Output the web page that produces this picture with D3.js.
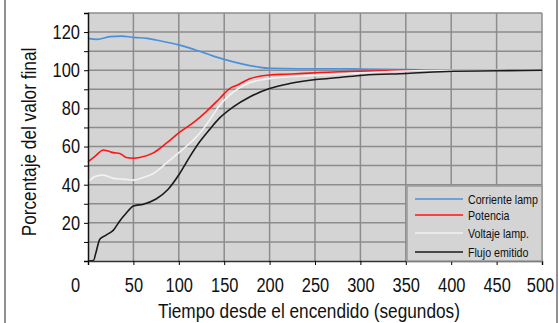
<!DOCTYPE html>
<html>
<head>
<meta charset="utf-8">
<script src="https://cdn.jsdelivr.net/npm/d3@7"></script>
<style>
  body { margin: 0; background: #fff; }
  svg text { font-family: "Liberation Sans", Arial, sans-serif; fill: #111; }
</style>
</head>
<body>
<div id="chart"></div>
<script>
// [tiempo (s), porcentaje del valor final]
const corriente = [[0,116.7],[10,116.2],[24,117.6],[37,117.9],[50,117.2],[65,116.7],[79,115.5],[100,113.3],
  [120,110.4],[138,107.4],[150,105.7],[167,103.6],[186,101.8],[200,101],[233,100.8],[277,100.8],[300,100.6],
  [350,100.3],[400,100.1],[450,100],[500,100]];
const potencia = [[0,52],[8,55],[17,58.2],[21,57.8],[28,56.8],[35,56.4],[42,54.3],[50,53.9],[57,54.3],[72,56.7],
  [86,61.6],[101,67.5],[116,72.5],[130,78.2],[145,85.2],[156,90.4],[164,92.1],[178,95.5],[200,97.5],[217,97.9],
  [233,98.2],[255,98.8],[277,99.2],[300,99.5],[340,99.8],[400,100],[450,100],[500,100]];
const voltaje = [[0,41.5],[9,44.5],[17,45],[28,43.3],[39,42.9],[50,42.4],[61,43.8],[72,45.9],[86,51.2],[101,57.2],
  [116,63.4],[123,67],[130,71.2],[145,81.5],[156,86.9],[165,90.2],[178,93.4],[200,95.6],[233,96.9],[266,97.6],
  [300,98.6],[340,99.5],[400,100],[450,100],[500,100]];
const flujo = [[0,0],[6,0.3],[9,4.9],[13,11.4],[20,13.6],[28,16.2],[35,21],[42,25],[50,28.8],[61,29.8],[75,32.5],
  [88,37.5],[101,45.9],[112,54.6],[123,62.5],[134,69],[145,75],[160,80.8],[178,86],[200,90.4],[222,93],[251,95.1],
  [277,96.2],[303,97.4],[351,98.3],[402,99.5],[450,99.7],[500,100]];

const seriesNames = ["Corriente lamp", "Potencia", "Voltaje lamp.", "Flujo emitido"];
const seriesColors = ["#4a90dc", "#ff1414", "#f2f2f2", "#1a1a1a"];
const xTicks = [0, 50, 100, 150, 200, 250, 300, 350, 400, 450, 500];
const yLabels = [20, 40, 60, 80, 100, 120];

const W = 559, H = 323;
const svg = d3.select("#chart").append("svg").attr("width", W).attr("height", H);

const x = d3.scaleLinear().domain([0, 500]).range([88, 542]);
const y = d3.scaleLinear().domain([0, 130]).range([261, 13]);

// outer frame
svg.append("rect").attr("x", 5).attr("y", -5).attr("width", 552).attr("height", H + 10)
  .attr("fill", "none").attr("stroke", "#222").attr("stroke-width", 1);

// plot background
svg.append("rect").attr("x", x(0)).attr("y", y(130))
  .attr("width", x(500) - x(0)).attr("height", y(0) - y(130)).attr("fill", "#d4d4d4");

// grid
svg.append("g").selectAll("line").data(d3.range(50, 501, 50)).join("line")
  .attr("x1", d => x(d)).attr("x2", d => x(d)).attr("y1", y(0)).attr("y2", y(130))
  .attr("stroke", "#8c8c8c").attr("stroke-width", 1.5);
svg.append("g").selectAll("line").data(d3.range(10, 131, 10)).join("line")
  .attr("x1", x(0)).attr("x2", x(500)).attr("y1", d => y(d)).attr("y2", d => y(d))
  .attr("stroke", "#8c8c8c").attr("stroke-width", 1.5);

// lines
const line = d3.line().x(d => x(d[0])).y(d => y(d[1])).curve(d3.curveMonotoneX);
const allSeries = [corriente, potencia, voltaje, flujo];
svg.append("g").selectAll("path").data(allSeries).join("path")
  .attr("d", line).attr("fill", "none")
  .attr("stroke", (d, i) => seriesColors[i]).attr("stroke-width", 1.6);

// axes
const yAxis = svg.append("g").attr("transform", `translate(${x(0)},0)`)
  .call(d3.axisLeft(y).tickValues(d3.range(0, 131, 10)).tickSize(4).tickPadding(4)
    .tickFormat(d => yLabels.includes(d) ? d : ""));
yAxis.select(".domain").attr("stroke", "#111").attr("stroke-width", 1.5);
yAxis.selectAll("text").style("font-size", "20px");

const xAxis = svg.append("g").attr("transform", `translate(0,${y(0)})`)
  .call(d3.axisBottom(x).tickValues(xTicks).tickSize(4).tickPadding(13));
xAxis.select(".domain").attr("stroke", "#333").attr("stroke-width", 1.5);
xAxis.selectAll("text").style("font-size", "20px");
xAxis.selectAll("text").filter(d => d === 0).attr("dx", -13);
xAxis.selectAll("text").filter(d => d === 500).attr("dx", -2);

// axis titles
svg.append("text").attr("x", 309).attr("y", 318).attr("text-anchor", "middle")
  .style("font-size", "21px").text("Tiempo desde el encendido (segundos)");
svg.append("text").attr("transform", "translate(36,142) rotate(-90)").attr("text-anchor", "middle")
  .style("font-size", "21px").text("Porcentaje del valor final");

// legend
const lg = svg.append("g");
lg.append("rect").attr("x", 407).attr("y", 186).attr("width", x(500) - 407).attr("height", y(0) - 186)
  .attr("fill", "#d4d4d4").attr("stroke", "#999").attr("stroke-width", 1.5);
const rowY = [199, 215, 233, 252];
seriesNames.forEach((name, i) => {
  lg.append("line").attr("x1", 415).attr("x2", 463).attr("y1", rowY[i]).attr("y2", rowY[i])
    .attr("stroke", seriesColors[i]).attr("stroke-width", 1.6);
  lg.append("text").attr("x", 468).attr("y", rowY[i]).attr("dy", "0.35em")
    .style("font-size", "13px").text(name);
});

// the original type is a narrow face: squeeze every label horizontally
svg.selectAll("text").each(function () {
  const w = this.getComputedTextLength();
  if (w > 0) {
    this.setAttribute("textLength", (w * 0.82).toFixed(1));
    this.setAttribute("lengthAdjust", "spacingAndGlyphs");
  }
});
</script>
</body>
</html>
